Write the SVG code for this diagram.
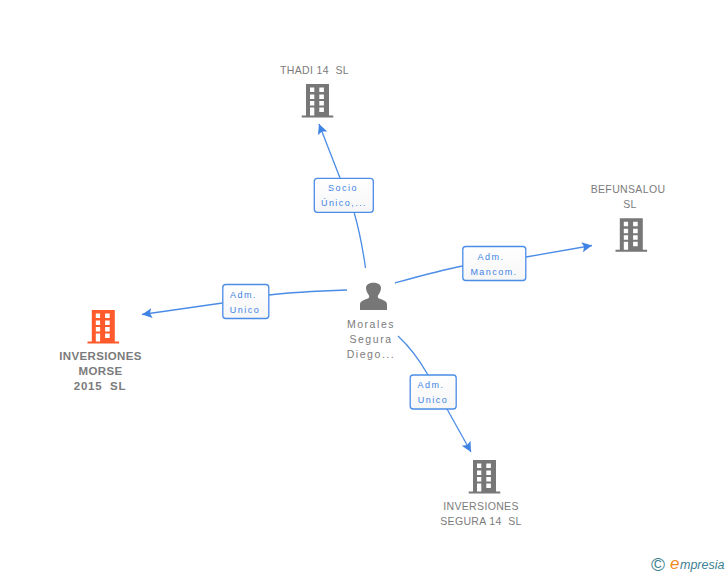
<svg xmlns="http://www.w3.org/2000/svg" xmlns:xlink="http://www.w3.org/1999/xlink" width="728" height="575" viewBox="0 0 728 575">
<style>
text{font-family:"Liberation Sans",Arial,sans-serif;text-anchor:middle;white-space:pre}
.n{font-size:10.5px;fill:#7b7b7b;letter-spacing:.35px}
.m{font-size:10.5px;fill:#7b7b7b;letter-spacing:1.55px}
.nb{font-size:11.5px;fill:#7b7b7b;font-weight:bold;letter-spacing:.35px}
.l{font-size:9px;fill:#3f84e5;letter-spacing:1.45px}
.b{fill:url(#g);stroke:#4a8ce6;stroke-width:1.3}
.c{fill:none;stroke:#4a8ce6;stroke-width:1.3}
</style>
<defs>
<linearGradient id="g" x1="0" y1="0" x2="0" y2="1"><stop offset="0" stop-color="#fff"/><stop offset="1" stop-color="#f6f6f6"/></linearGradient>
<marker id="a" markerUnits="userSpaceOnUse" markerWidth="12" markerHeight="12" refX="10" refY="5" orient="auto"><path d="M0 0L10 5L0 10L2 5Z" fill="#3f84e5"/></marker>
<g id="bld">
<path fill-rule="evenodd" d="M-11.5 0H11.5V31.5H15.8V33.5H-15.8V31.5H-11.5ZM-7.500 3.500V8H-3.200V3.500ZM1.800 3.500V8H6.400V3.500ZM-7.500 10.500V15H-3.200V10.500ZM1.800 10.500V15H6.400V10.500ZM-7.500 17V21.500H-3.200V17ZM1.800 17V21.500H6.400V17ZM-7.500 23.500V31.500H-3.200V23.500ZM1.800 23.500V28H6.400V23.500Z"/>
</g>
</defs>
<g id="connectors">
<path class="c" d="M365.500 268C362 243 358 226 354 212"/>
<path class="c" d="M340 178L319 124" marker-end="url(#a)"/>
<path class="c" d="M347 290C318 291 293 292 269 295"/>
<path class="c" d="M222.500 303L142 314.500" marker-end="url(#a)"/>
<path class="c" d="M395 283C420 276 441 270 463 266"/>
<path class="c" d="M526 257L592 245.500" marker-end="url(#a)"/>
<path class="c" d="M398 336C410 347 420 361 428 375"/>
<path class="c" d="M447 409L471 452" marker-end="url(#a)"/>
</g>
<g id="thadi"><use xlink:href="#bld" href="#bld" x="317.500" y="84" fill="#777"/><text class="n" x="314.500" y="74">THADI 14  SL</text></g>
<g id="befunsalou"><use xlink:href="#bld" href="#bld" x="631.300" y="218.300" fill="#777"/><text class="n" x="628" y="193">BEFUNSALOU</text><text class="n" x="630" y="208">SL</text></g>
<g id="morse"><use xlink:href="#bld" href="#bld" x="103.300" y="310" fill="#ff5a2b"/><text class="nb" x="100.500" y="360">INVERSIONES</text><text class="nb" x="100.500" y="375">MORSE</text><text class="nb" x="100" y="390" style="letter-spacing:.7px">2015  SL</text></g>
<g id="segura"><use xlink:href="#bld" href="#bld" x="484.500" y="460" fill="#777"/><text class="n" x="481" y="510">INVERSIONES</text><text class="n" x="481" y="525">SEGURA 14  SL</text></g>
<g id="morales">
<path fill="#777" d="M360 310V304.500C360 301 364 300 368 298.500C369 298 369.500 296.500 369 295.500C367 293 366 290 366 288C366 284.500 369.500 282.700 373.500 282.700C377.500 282.700 381 284.500 381 288C381 290 380 293 378 295.500C377.500 296.500 378 298 379 298.500C383 300 387 301 387 304.500V310Z"/>
<text class="m" x="371" y="328">Morales</text><text class="m" x="371" y="343">Segura</text><text class="m" x="371" y="358">Diego...</text>
</g>
<g id="label-socio"><rect class="b" x="314.300" y="178.300" width="59" height="34" rx="3"/><text class="l" x="343" y="191">Socio</text><text class="l" x="344" y="206">Único,...</text></g>
<g id="label-unico-left"><rect class="b" x="222.800" y="284.500" width="46" height="34" rx="3"/><text class="l" x="243.500" y="298">Adm.</text><text class="l" x="245" y="313">Unico</text></g>
<g id="label-mancom"><rect class="b" x="462.800" y="246.500" width="63" height="34" rx="3"/><text class="l" x="491" y="260">Adm.</text><text class="l" x="494" y="275">Mancom.</text></g>
<g id="label-unico-low"><rect class="b" x="410.200" y="375" width="46" height="34" rx="3"/><text class="l" x="431" y="388">Adm.</text><text class="l" x="433" y="403">Unico</text></g>
<g id="logo">
<text x="658" y="570.500" style="font-size:19px;fill:#3d7f92">©</text>
<text x="670" y="569" style="font-size:17px;font-style:italic;fill:#f08a1d;text-anchor:start">e</text>
<text x="680" y="569" style="font-size:12.500px;font-style:italic;fill:#3d7f92;text-anchor:start">mpresia</text>
</g>
</svg>
